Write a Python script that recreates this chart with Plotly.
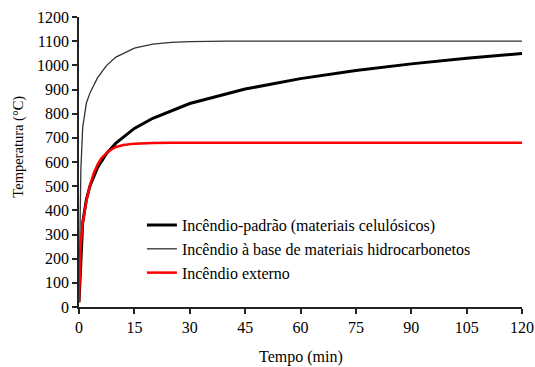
import plotly.graph_objects as go

# Time (min) and temperature (°C) values
t_std = [0, 1, 2, 3, 5, 7.5, 10, 15, 20, 30, 45, 60, 75, 90, 105, 120]
T_std = [20, 349, 445, 502, 576, 636, 678, 739, 781, 842, 902, 945, 979, 1006, 1029, 1049]

t_hc = [0, 0.5, 1, 1.5, 2, 3, 5, 7.5, 10, 15, 20, 25, 30, 40, 120]
T_hc = [20, 568, 743, 800, 844, 887, 948, 1000, 1034, 1071, 1088, 1095, 1098, 1100, 1100]

t_ext = [0, 0.5, 1, 1.5, 2, 3, 4, 5, 6, 8, 10, 12, 15, 20, 25, 120]
T_ext = [20, 263, 346, 399, 441, 506, 554, 588, 614, 645, 662, 670, 676, 679, 680, 680]

names = ["Incêndio-padrão (materiais celulósicos)",
         "Incêndio à base de materiais hidrocarbonetos",
         "Incêndio externo"]

x_ticks = [0, 15, 30, 45, 60, 75, 90, 105, 120]
y_ticks = list(range(0, 1300, 100))

x_title = "Tempo (min)"
y_title = "Temperatura (°C)"

FONT = "Liberation Serif"

fig = go.Figure()
fig.add_trace(go.Scatter(x=t_std, y=T_std, mode="lines", name=names[0],
                         line=dict(color="black", width=3)))
fig.add_trace(go.Scatter(x=t_hc, y=T_hc, mode="lines", name=names[1],
                         line=dict(color="#333333", width=1.3)))
fig.add_trace(go.Scatter(x=t_ext, y=T_ext, mode="lines", name=names[2],
                         line=dict(color="#ff0000", width=2.5)))

fig.update_layout(
    width=535, height=367,
    margin=dict(l=79, r=13, t=17, b=60, autoexpand=False),
    paper_bgcolor="white", plot_bgcolor="white",
    font=dict(family=FONT, color="black", size=16),
    showlegend=True,
    legend=dict(x=0.142, y=0.341, xanchor="left", yanchor="top",
                bgcolor="rgba(0,0,0,0)", font=dict(size=16, family=FONT),
                tracegroupgap=0),
    xaxis=dict(range=[0, 120], tickvals=x_ticks, showgrid=False, zeroline=False,
               showline=True, linecolor="#222222", linewidth=1.5, automargin=False,
               ticks="outside", ticklen=5, tickcolor="#222222", tickwidth=1.5),
    yaxis=dict(range=[0, 1200], tickvals=y_ticks, showgrid=False, zeroline=False,
               showline=True, linecolor="#222222", linewidth=1.5, automargin=False,
               ticks="outside", ticklen=5, tickcolor="#222222", tickwidth=1.5),
    annotations=[
        dict(text=x_title, xref="paper", yref="paper", x=0.5, y=0, yshift=-50,
             xanchor="center", yanchor="middle", showarrow=False,
             font=dict(size=16, family=FONT)),
        dict(text=y_title, xref="paper", yref="paper", x=0, xshift=-60, y=0.553,
             xanchor="center", yanchor="middle", textangle=-90, showarrow=False,
             font=dict(size=14.5, family=FONT)),
    ],
)

fig.write_html("out.html", config={"displayModeBar": False},
               post_script="document.body.style.margin='0';document.body.style.overflow='hidden';")
